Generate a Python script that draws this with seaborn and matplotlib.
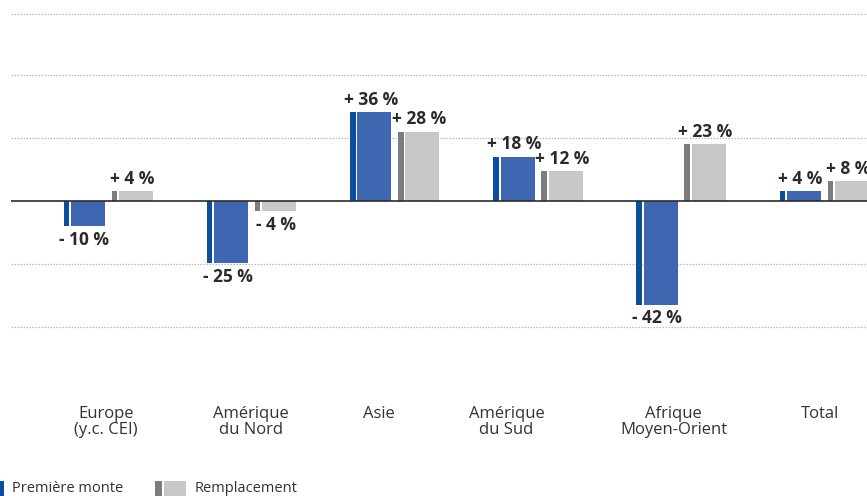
import numpy as np
import pandas as pd
import matplotlib
matplotlib.use("Agg")
import matplotlib.pyplot as plt
import matplotlib.transforms as mtransforms
from matplotlib.patches import Rectangle
import seaborn as sns

# ---- data ----
regions = ["Europe\n(y.c. CEI)", "Amérique\ndu Nord", "Asie", "Amérique\ndu Sud",
           "Afrique\nMoyen-Orient", "Total"]
series = ["Première monte", "Remplacement"]
premiere_monte = [-10, -25, 36, 18, -42, 4]
remplacement = [4, -4, 28, 12, 23, 8]

# ---- style ----
BLUE_MAIN = "#3f66b0"
BLUE_STRIPE = "#0a4f9f"
GRAY_MAIN = "#c7c7c8"
GRAY_STRIPE = "#7d7d7f"
FONT = "Open Sans"

sns.set_theme(style="white")
plt.rcParams["font.family"] = [FONT, "DejaVu Sans"]

df = pd.DataFrame({
    "region": regions * 2,
    "series": [series[0]] * len(regions) + [series[1]] * len(regions),
    "value": premiere_monte + remplacement,
})

W, H = 867, 496
fig = plt.figure(figsize=(W / 100, H / 100), dpi=100)
ax_left, ax_top, ax_bottom = 11, 0, 402
ax = fig.add_axes([ax_left / W, (H - ax_bottom) / H, (W - ax_left) / W, (ax_bottom - ax_top) / H])

sns.barplot(data=df, x="region", y="value", hue="series", order=regions,
            hue_order=series, palette=[BLUE_MAIN, GRAY_MAIN], saturation=1,
            width=0.671, gap=0.29, dodge=True, legend=False, ax=ax,
            linewidth=0, edgecolor="none", errorbar=None)

ax.set_xlim(-0.705, 5.272)
ax.set_ylim(-81.5, 81.5)

# gridlines
for g in [76, 51, 25.5, -25.5, -51]:
    ax.axhline(g, color="#b8b8b8", lw=0.9, ls=(0, (1.2, 1.2)), zorder=0)
ax.axhline(0, color="#2b2b2b", lw=1.2, zorder=3)

# stripes + value labels
px = 1 / 143.2  # one pixel in category units
stripe_w = 5.5 * px
gap_w = 1.8 * px
bars = list(ax.patches)
n = len(regions)
for i, p in enumerate(bars):
    stripe_color = BLUE_STRIPE if i < n else GRAY_STRIPE
    val = p.get_height()
    x0 = p.get_x()
    sx = x0 - gap_w - stripe_w
    ax.add_patch(Rectangle((sx, 0), stripe_w, val, facecolor=stripe_color,
                           edgecolor="none", zorder=2))
    cx = (sx + x0 + p.get_width()) / 2
    v = premiere_monte[i] if i < n else remplacement[i - n]
    txt = f"+ {v} %" if v >= 0 else f"- {abs(v)} %"
    if v >= 0:
        ax.annotate(txt, (cx, v), xytext=(0, 2.5), textcoords="offset points",
                    ha="center", va="bottom", fontsize=12.5, fontweight="bold",
                    color="#2a2a2a", annotation_clip=False, clip_on=False)
    else:
        ax.annotate(txt, (cx, v), xytext=(0, -3.5), textcoords="offset points",
                    ha="center", va="top", fontsize=12.5, fontweight="bold",
                    color="#2a2a2a", annotation_clip=False, clip_on=False)

# axes cosmetics
for s in ax.spines.values():
    s.set_visible(False)
ax.set_yticks([])
ax.set_xlabel("")
ax.set_ylabel("")
ax.tick_params(axis="x", length=0, pad=3, labelsize=12, labelcolor="#333333")
ax.set_xticks(range(n))
ax.set_xticklabels(regions, linespacing=0.95)
label_dx = [-6, -4, -20, -35, -11, -8]
for lab, dx in zip(ax.get_xticklabels(), label_dx):
    lab.set_transform(lab.get_transform() +
                      mtransforms.ScaledTranslation(dx / 100, 0, fig.dpi_scale_trans))

# legend (manual)
def frect(x, y, w, h, c):
    fig.add_artist(Rectangle((x / W, 1 - (y + h) / H), w / W, h / H,
                             transform=fig.transFigure, facecolor=c, edgecolor="none"))

frect(0, 481, 4, 15, BLUE_STRIPE)
fig.text(12 / W, 1 - 489 / H, series[0], ha="left", va="center", fontsize=10.5, color="#333333")
frect(155, 481, 7, 15, GRAY_STRIPE)
frect(164, 481, 22, 15, GRAY_MAIN)
fig.text(195 / W, 1 - 489 / H, series[1], ha="left", va="center", fontsize=10.5, color="#333333")

fig.savefig("out.png", dpi=100)
